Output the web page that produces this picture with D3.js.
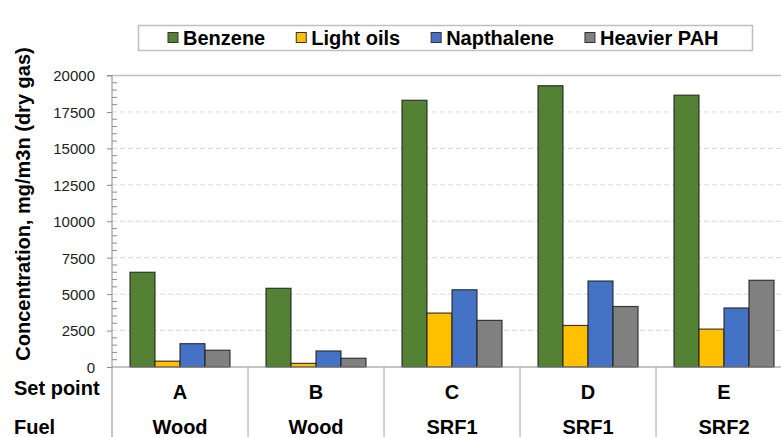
<!DOCTYPE html>
<html>
<head>
<meta charset="utf-8">
<script src="https://cdn.jsdelivr.net/npm/d3@7"></script>
<style>
  body { margin: 0; background: white; }
  svg { display: block; font-family: "Liberation Sans", Arial, sans-serif; }
</style>
</head>
<body>
<script>
// Data
const setPoints = ["A", "B", "C", "D", "E"];
const fuels = ["Wood", "Wood", "SRF1", "SRF1", "SRF2"];
const seriesNames = ["Benzene", "Light oils", "Napthalene", "Heavier PAH"];
const benzene = [6500, 5400, 18300, 19300, 18650];
const lightOils = [400, 250, 3700, 2850, 2600];
const napthalene = [1600, 1100, 5300, 5900, 4050];
const heavierPAH = [1150, 600, 3200, 4150, 5950];
const yTicks = [0, 2500, 5000, 7500, 10000, 12500, 15000, 17500, 20000];

const colors = ["#548235", "#ffc000", "#4472c4", "#808080"];
const seriesValues = [benzene, lightOils, napthalene, heavierPAH];

const rows = setPoints.map((s, i) => ({
    setPoint: s,
    fuel: fuels[i],
    values: seriesNames.map((n, j) => ({ name: n, value: seriesValues[j][i], color: colors[j] }))
}));

// Layout
const outerWidth = 781, outerHeight = 437;
const margin = {left: 112, top: 75.5, right: -11, bottom: 70};
const width = outerWidth - margin.left - margin.right;
const height = outerHeight - margin.top - margin.bottom;

const svg = d3.select("body").append("svg")
    .attr("width", outerWidth)
    .attr("height", outerHeight);

const canvas = svg.append("g")
    .attr("transform", `translate(${margin.left}, ${margin.top})`);

// Scales
const x0 = d3.scaleBand().domain(setPoints).range([0, width]).padding(0);
const x1 = d3.scaleBand().domain(seriesNames).range([0, x0.bandwidth()])
    .paddingInner(0).paddingOuter(0.72);
const y = d3.scaleLinear().domain([0, 20000]).range([height, 0]);

// Gridlines
canvas.append("g")
    .selectAll("line")
    .data(yTicks.filter(t => t > 0 && t < 20000))
    .join("line")
    .attr("x1", 0).attr("x2", width)
    .attr("y1", d => y(d)).attr("y2", d => y(d))
    .attr("stroke", "#d9d9d9")
    .attr("stroke-width", 1)
    .attr("stroke-dasharray", "5,3");

// Top border
canvas.append("line")
    .attr("x1", 0).attr("x2", width)
    .attr("y1", y(20000)).attr("y2", y(20000))
    .attr("stroke", "#bfbfbf")
    .attr("stroke-width", 1.5);

// Minor ticks (inside)
const minor = d3.range(0, 20001, 500).filter(v => v % 2500 !== 0);
canvas.append("g")
    .selectAll("line")
    .data(minor)
    .join("line")
    .attr("x1", 0).attr("x2", 5)
    .attr("y1", d => y(d)).attr("y2", d => y(d))
    .attr("stroke", "#8c8c8c")
    .attr("stroke-width", 1);

// Y axis
const yAxis = d3.axisLeft(y).tickValues(yTicks).tickFormat(d3.format("d")).tickSize(5).tickPadding(12);
const yAxisGroup = canvas.append("g").call(yAxis);
yAxisGroup.select(".domain").attr("stroke", "#8c8c8c").attr("d", `M-5,${y(20000)}H0V${height + margin.bottom}`);
yAxisGroup.selectAll(".tick line").attr("stroke", "#8c8c8c");
yAxisGroup.selectAll(".tick text")
    .style("font-size", "15px")
    .style("font-family", "'Liberation Sans', Arial, sans-serif")
    .attr("fill", "#222")
    .attr("dy", "0.36em");

// Bars
const groups = canvas.selectAll(".group")
    .data(rows)
    .join("g")
    .attr("class", "group")
    .attr("transform", d => `translate(${x0(d.setPoint)}, 0)`);

groups.selectAll("rect")
    .data(d => d.values)
    .join("rect")
    .attr("x", d => x1(d.name))
    .attr("y", d => y(d.value))
    .attr("width", x1.bandwidth())
    .attr("height", d => height - y(d.value))
    .attr("fill", d => d.color)
    .attr("stroke", "#1e1e1e")
    .attr("stroke-opacity", 0.85)
    .attr("stroke-width", 1.2);

// Baseline
canvas.append("line")
    .attr("x1", 0).attr("x2", width)
    .attr("y1", height).attr("y2", height)
    .attr("stroke", "#8c8c8c")
    .attr("stroke-width", 1.2);

// Category separators
canvas.append("g")
    .selectAll("line")
    .data(setPoints.slice(1))
    .join("line")
    .attr("x1", d => x0(d)).attr("x2", d => x0(d))
    .attr("y1", height).attr("y2", height + margin.bottom)
    .attr("stroke", "#a6a6a6")
    .attr("stroke-width", 1);

// Table labels
const labelFont = "bold 20px 'Liberation Sans', Arial, sans-serif";
canvas.selectAll(".setpoint")
    .data(rows)
    .join("text")
    .attr("class", "setpoint")
    .attr("x", d => x0(d.setPoint) + x0.bandwidth() / 2)
    .attr("y", height + 32)
    .attr("text-anchor", "middle")
    .style("font", labelFont)
    .text(d => d.setPoint);

canvas.selectAll(".fuel")
    .data(rows)
    .join("text")
    .attr("class", "fuel")
    .attr("x", d => x0(d.setPoint) + x0.bandwidth() / 2)
    .attr("y", height + 67)
    .attr("text-anchor", "middle")
    .style("font", labelFont)
    .text(d => d.fuel);

svg.append("text")
    .attr("x", 14).attr("y", 395)
    .style("font", labelFont)
    .text("Set point");

svg.append("text")
    .attr("x", 14).attr("y", 434)
    .style("font", labelFont)
    .text("Fuel");

// Y label
svg.append("text")
    .text("Concentration, mg/m3n (dry gas)")
    .attr("text-anchor", "middle")
    .attr("transform", "translate(30, 204) rotate(-90)")
    .style("font", labelFont);

// Legend
const legend = svg.append("g");
legend.append("rect")
    .attr("x", 138.5).attr("y", 25.5)
    .attr("width", 614).attr("height", 25)
    .attr("fill", "white")
    .attr("stroke", "#bfbfbf")
    .attr("stroke-width", 1.5);

let lx = 168;
seriesNames.forEach((name, i) => {
    legend.append("rect")
        .attr("x", lx).attr("y", 32.5)
        .attr("width", 10).attr("height", 10)
        .attr("fill", colors[i])
        .attr("stroke", "#333")
        .attr("stroke-width", 1);
    const t = legend.append("text")
        .attr("x", lx + 15).attr("y", 44.5)
        .style("font", labelFont)
        .text(name);
    lx += 15 + t.node().getComputedTextLength() + 31;
});
</script>
</body>
</html>
